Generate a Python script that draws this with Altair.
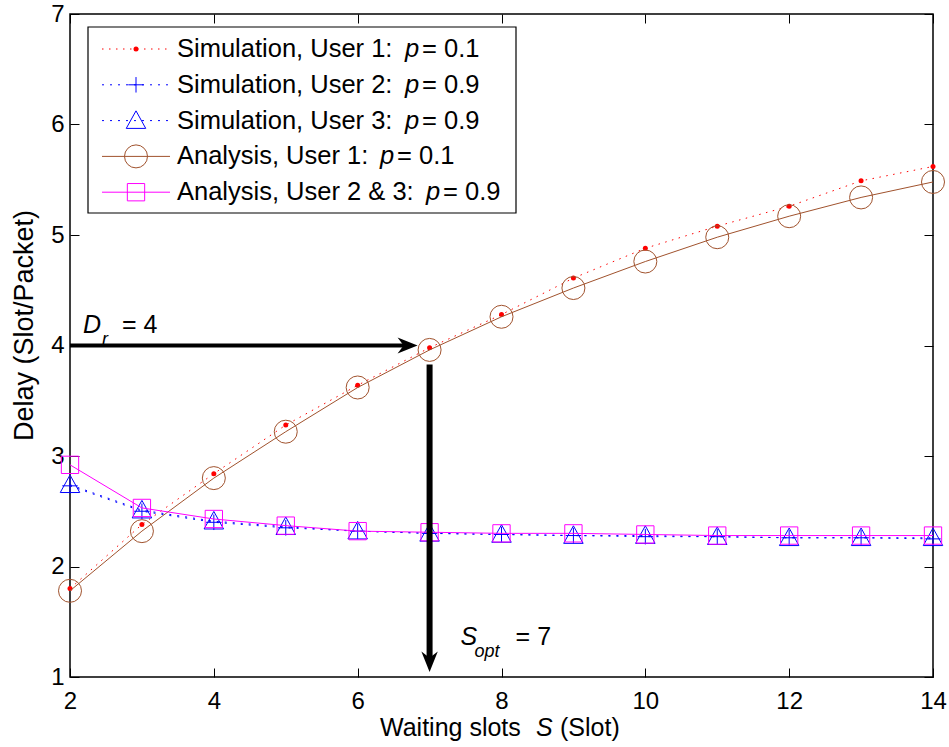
import altair as alt
import pandas as pd

# ---------------- data ----------------
S = [2, 3, 4, 5, 6, 7, 8, 9, 10, 11, 12, 13, 14]
sim_user1 = [1.80, 2.38, 2.84, 3.28, 3.64, 3.98, 4.28, 4.61, 4.88, 5.08, 5.26, 5.49, 5.62]
sim_user2 = [2.73, 2.50, 2.40, 2.35, 2.32, 2.30, 2.29, 2.28, 2.27, 2.27, 2.26, 2.26, 2.25]
sim_user3 = [2.74, 2.51, 2.41, 2.36, 2.32, 2.30, 2.29, 2.28, 2.28, 2.27, 2.26, 2.26, 2.26]
ana_user1 = [1.78, 2.32, 2.80, 3.22, 3.62, 3.96, 4.26, 4.52, 4.76, 4.98, 5.17, 5.34, 5.48]
ana_user23 = [2.92, 2.53, 2.43, 2.37, 2.32, 2.31, 2.30, 2.30, 2.29, 2.28, 2.28, 2.28, 2.28]

legend_text = ["Simulation, User 1:", "Simulation, User 2:", "Simulation, User 3:",
               "Analysis, User 1:", "Analysis, User 2 & 3:"]
legend_value = ["= 0.1", "= 0.9", "= 0.9", "= 0.1", "= 0.9"]

X_DOMAIN = [2, 14]
Y_DOMAIN = [1, 7]
X_TICKS = [2, 4, 6, 8, 10, 12, 14]
Y_TICKS = [1, 2, 3, 4, 5, 6, 7]
D_R = 4
S_OPT = 7

# ---------------- layout ----------------
W, H = 863, 663
PAD = {"left": 70, "top": 14, "right": 16, "bottom": 70}
FONT = "Liberation Sans"
XPU = W / (X_DOMAIN[1] - X_DOMAIN[0])
YPU = H / (Y_DOMAIN[1] - Y_DOMAIN[0])

PLUS = "M-1,0L1,0M0,-1L0,1"
TRI = "M0,-1L1,0.8L-1,0.8Z"
HEAD_RIGHT = "M0,0L-2,-0.8L-1.4,0L-2,0.8Z"
HEAD_DOWN = "M0,0L-0.8,-2L0,-1.4L0.8,-2Z"

styles = [
    dict(values=sim_user1, color="#ff0000", dash=[1.5, 5.5], shape="circle", size=25, filled=True),
    dict(values=sim_user2, color="#0000ff", dash=[2, 6], shape=PLUS, size=240, filled=False),
    dict(values=sim_user3, color="#0000ff", dash=[2, 6], shape=TRI, size=380, filled=False),
    dict(values=ana_user1, color="#a0522d", dash=None, shape="circle", size=529, filled=False),
    dict(values=ana_user23, color="#ff00ff", dash=None, shape="square", size=300, filled=False),
]

xs = alt.Scale(domain=X_DOMAIN, nice=False, zero=False)
ys = alt.Scale(domain=Y_DOMAIN, nice=False, zero=False)

layers = []

# ---------------- axes (main + inward ticks) ----------------
axis_df = pd.DataFrame({"S": S, "v": ana_user1})
main_x = alt.Axis(orient="bottom", values=X_TICKS, ticks=False, tickSize=0, domain=False, grid=False,
                  labelFontSize=24, labelFont=FONT, labelColor="black", labelPadding=12,
                  labelFlush=False, labelOverlap=False, format="d", title=None)
main_y = alt.Axis(orient="left", values=Y_TICKS, ticks=False, tickSize=0, domain=False, grid=False,
                  labelFontSize=24, labelFont=FONT, labelColor="black", labelPadding=6,
                  labelFlush=False, labelOverlap=False, format="d",
                  title="Delay (Slot/Packet)", titleFont=FONT, titleFontSize=27,
                  titleFontWeight="normal", titleColor="black", titleX=-46, titleY=311,
                  titleBaseline="middle")
layers.append(alt.Chart(axis_df).mark_point(opacity=0).encode(
    x=alt.X("S:Q", scale=xs, axis=main_x), y=alt.Y("v:Q", scale=ys, axis=main_y)))


def tick_axis(orient, offset, values):
    return alt.Axis(orient=orient, offset=offset, values=values, ticks=True, tickSize=9,
                    tickColor="black", tickWidth=1, labels=False, domain=False, grid=False, title=None)


layers.append(alt.Chart(axis_df).mark_point(opacity=0).encode(
    x=alt.X("S:Q", scale=xs, axis=tick_axis("top", -H, X_TICKS)),
    y=alt.Y("v:Q", scale=ys, axis=tick_axis("right", -W, Y_TICKS))))
layers.append(alt.Chart(axis_df).mark_point(opacity=0).encode(
    x=alt.X("S:Q", scale=xs, axis=tick_axis("bottom", -H, X_TICKS)),
    y=alt.Y("v:Q", scale=ys, axis=tick_axis("left", -W, Y_TICKS))))

# ---------------- data series ----------------
for st in styles:
    df = pd.DataFrame({"S": S, "v": st["values"]})
    line_kw = dict(color=st["color"], strokeWidth=1)
    if st["dash"] is not None:
        line_kw["strokeDash"] = st["dash"]
    enc = dict(x=alt.X("S:Q", scale=xs, axis=None), y=alt.Y("v:Q", scale=ys, axis=None))
    layers.append(alt.Chart(df).mark_line(**line_kw).encode(**enc))
    layers.append(alt.Chart(df).mark_point(shape=st["shape"], size=st["size"], filled=st["filled"],
                                           color=st["color"], strokeWidth=1, opacity=1).encode(**enc))

# ---------------- annotations ----------------
h_tip = S_OPT - 12 / XPU
h_df = pd.DataFrame({"x": [X_DOMAIN[0]], "x2": [h_tip - 10 / XPU], "y": [D_R]})
layers.append(alt.Chart(h_df).mark_rule(color="black", strokeWidth=4).encode(
    x=alt.X("x:Q", scale=xs, axis=None), x2="x2:Q", y=alt.Y("y:Q", scale=ys, axis=None)))
layers.append(alt.Chart(pd.DataFrame({"x": [h_tip], "y": [D_R]})).mark_point(
    shape=HEAD_RIGHT, size=400, filled=True, color="black", opacity=1).encode(
    x=alt.X("x:Q", scale=xs, axis=None), y=alt.Y("y:Q", scale=ys, axis=None)))

v_tip = Y_DOMAIN[0] + 5 / YPU
v_df = pd.DataFrame({"x": [S_OPT], "y": [D_R - 19 / YPU], "y2": [v_tip + 10 / YPU]})
layers.append(alt.Chart(v_df).mark_rule(color="black", strokeWidth=6).encode(
    x=alt.X("x:Q", scale=xs, axis=None), y=alt.Y("y:Q", scale=ys, axis=None), y2="y2:Q"))
layers.append(alt.Chart(pd.DataFrame({"x": [S_OPT], "y": [v_tip]})).mark_point(
    shape=HEAD_DOWN, size=420, filled=True, color="black", opacity=1).encode(
    x=alt.X("x:Q", scale=xs, axis=None), y=alt.Y("y:Q", scale=ys, axis=None)))


def anno_text(xv, yv, txt, dx, dy, size=25, italic=False):
    kw = dict(align="left", baseline="alphabetic", font=FONT, fontSize=size, color="black", dx=dx, dy=dy)
    if italic:
        kw["fontStyle"] = "italic"
    return alt.Chart(pd.DataFrame({"x": [xv], "y": [yv]})).mark_text(**kw).encode(
        x=alt.X("x:Q", scale=xs, axis=None), y=alt.Y("y:Q", scale=ys, axis=None), text=alt.value(txt))


layers.append(anno_text(X_DOMAIN[0], D_R, "D", 13, -13, italic=True))
layers.append(anno_text(X_DOMAIN[0], D_R, "r", 32, -1, size=18, italic=True))
layers.append(anno_text(X_DOMAIN[0], D_R, f"= {D_R}", 52, -13))
layers.append(anno_text(S_OPT, Y_DOMAIN[0], "S", 31, -32, italic=True))
layers.append(anno_text(S_OPT, Y_DOMAIN[0], "opt", 45, -20, size=18, italic=True))
layers.append(anno_text(S_OPT, Y_DOMAIN[0], f"= {S_OPT}", 86, -32))

# ---------------- x-axis title (mixed styles) ----------------
one = pd.DataFrame({"a": [0]})


def px_text(x, y, txt, size=25, italic=False):
    kw = dict(align="left", baseline="alphabetic", font=FONT, fontSize=size, color="black")
    if italic:
        kw["fontStyle"] = "italic"
    return alt.Chart(one).mark_text(**kw).encode(x=alt.value(x), y=alt.value(y), text=alt.value(txt))


layers.append(px_text(310, 722, "Waiting slots"))
layers.append(px_text(466, 722, "S", italic=True))
layers.append(px_text(490, 722, "(Slot)"))

# ---------------- legend ----------------
layers.append(alt.Chart(one).mark_rect(fill="white", stroke="black", strokeWidth=1.2).encode(
    x=alt.value(18), x2=alt.value(446), y=alt.value(13), y2=alt.value(199)))
LEG_Y0, LEG_STEP = 35, 35.8
P_X = [335, 335, 335, 310, 356]
for i, st in enumerate(styles):
    ry = LEG_Y0 + i * LEG_STEP
    rule_kw = dict(color=st["color"], strokeWidth=1)
    if st["dash"] is not None:
        rule_kw["strokeDash"] = st["dash"]
    layers.append(alt.Chart(one).mark_rule(**rule_kw).encode(
        x=alt.value(32), x2=alt.value(100), y=alt.value(ry)))
    layers.append(alt.Chart(one).mark_point(shape=st["shape"], size=st["size"], filled=st["filled"],
                                            color=st["color"], strokeWidth=1, opacity=1).encode(
        x=alt.value(66), y=alt.value(ry)))
    layers.append(px_text(107, ry + 8, legend_text[i], size=25.5))
    layers.append(px_text(P_X[i], ry + 8, "p", size=25.5, italic=True))
    layers.append(px_text(P_X[i] + 17, ry + 8, legend_value[i], size=25.5))

chart = alt.layer(*layers).resolve_axis(x="independent", y="independent").properties(
    width=W, height=H, autosize=alt.AutoSizeParams(type="none"), padding=PAD,
    background="white"
).configure_view(stroke="black", strokeWidth=1.5)

chart.save("out.html", embed_options={"renderer": "svg", "actions": False})
